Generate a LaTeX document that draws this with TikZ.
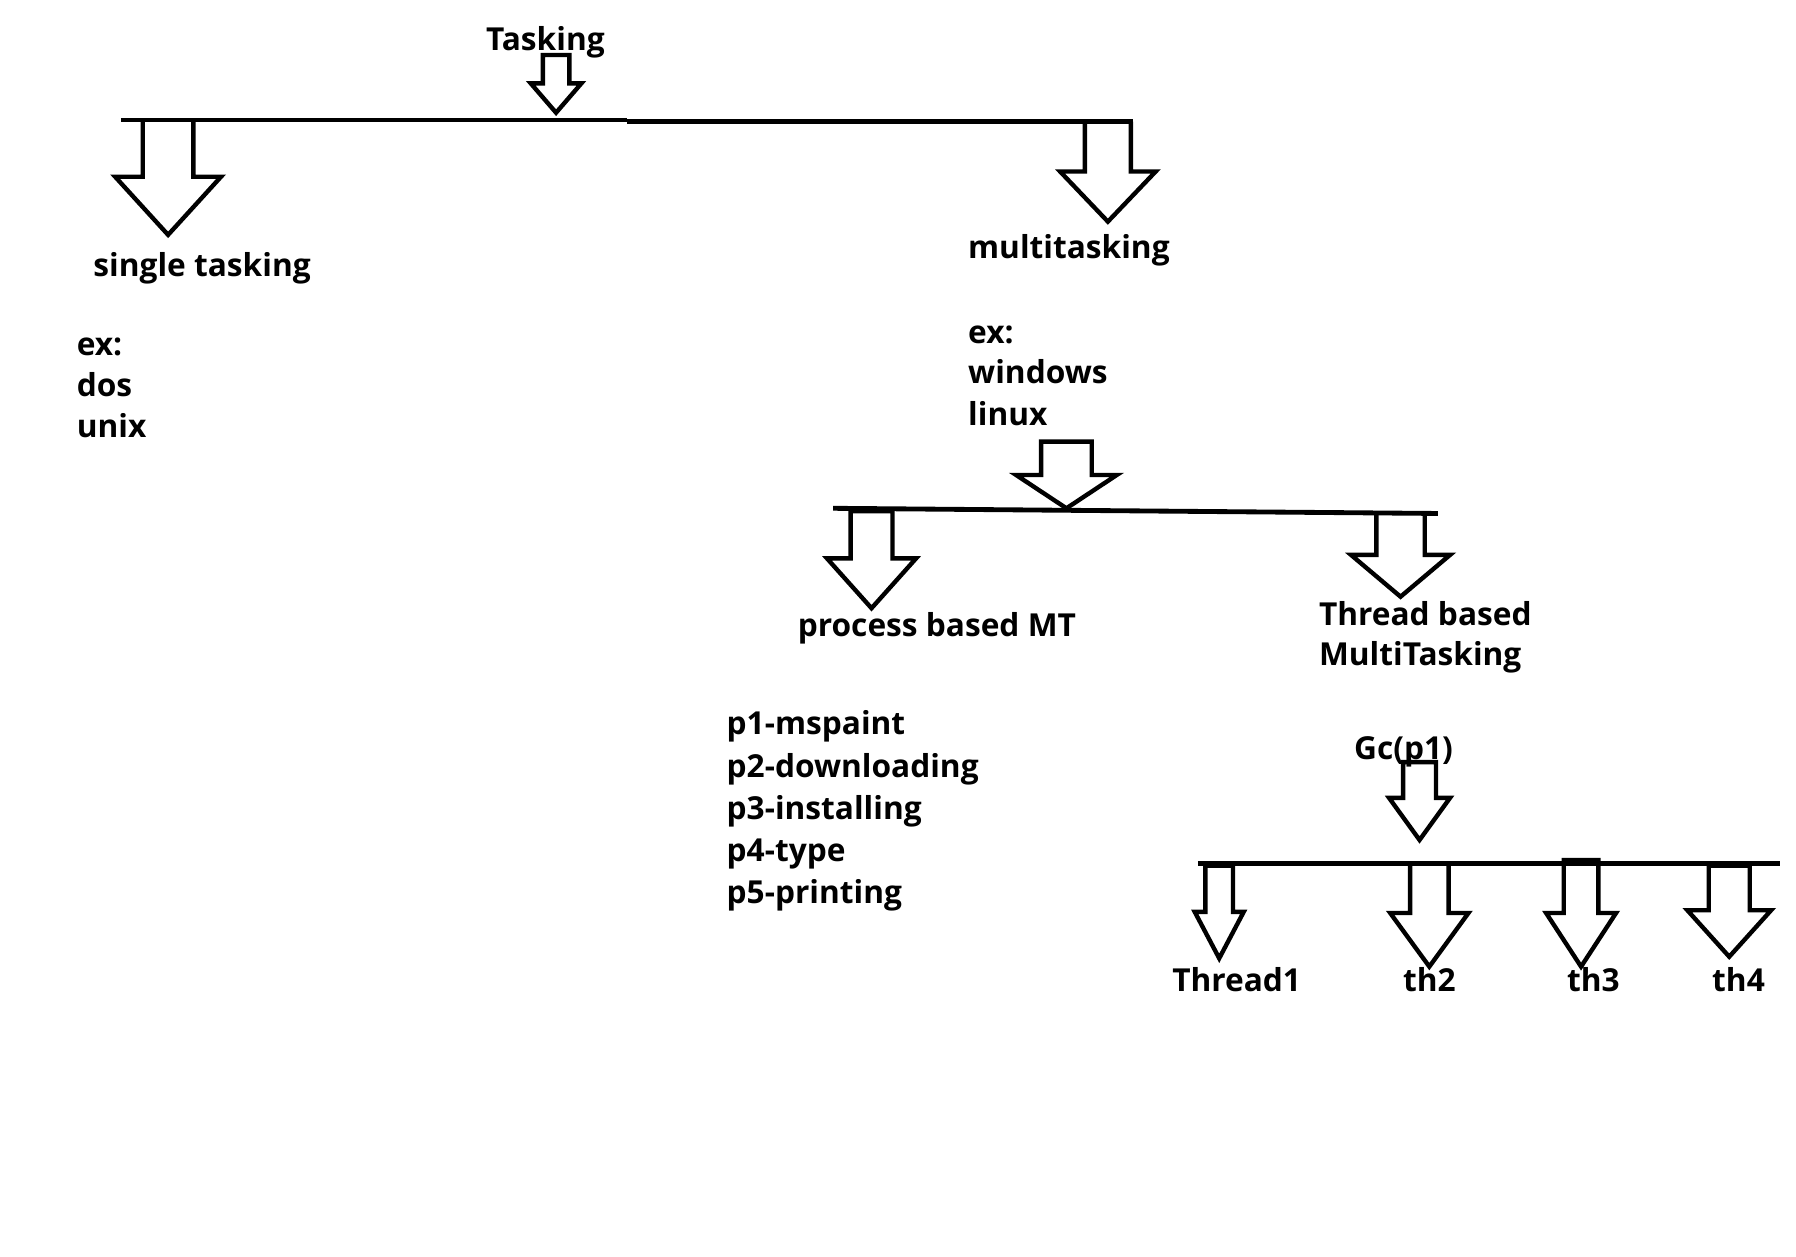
\documentclass[tikz,border=0pt]{standalone}
\usepackage{fontspec}
\setmainfont{Open Sans}
% #1 centre x, #2 top, #3 head base, #4 tip, #5 shaft half width, #6 head half width
\newcommand{\openarr}[6]{\draw[arrline] (#1-#5,#2) -- (#1-#5,#3) -- (#1-#6,#3) -- (#1,#4) -- (#1+#6,#3) -- (#1+#5,#3) -- (#1+#5,#2);}
\newcommand{\closedarr}[6]{\draw[arrline] (#1-#5,#2) -- (#1-#5,#3) -- (#1-#6,#3) -- (#1,#4) -- (#1+#6,#3) -- (#1+#5,#3) -- (#1+#5,#2) -- cycle;}
\begin{document}
\begin{tikzpicture}[x=1pt,y=-1pt,
  lbl/.style={font=\fontsize{27.5}{33}\selectfont\bfseries, inner sep=0pt, anchor=base west},
  barline/.style={line width=4.2pt},
  arrline/.style={line width=3.8pt, line join=miter}]
\useasboundingbox[fill=white] (0,0) rectangle (1560,1091);

% texts
\node[lbl] (tasking) at (422,43.5) {Tasking};
\node[lbl] (single) at (81,240.5) {single tasking};
\node[lbl] (stex) at (66.5,308.4) {ex:};
\node[lbl] (stdos) at (66.5,344.5) {dos};
\node[lbl] (stunix) at (66.5,380) {unix};
\node[lbl] (multi) at (840.7,224.4) {multitasking};
\node[lbl] (mtex) at (840.8,298) {ex:};
\node[lbl] (mtwin) at (840.8,333.5) {windows};
\node[lbl] (mtlinux) at (840.8,369.5) {linux};
\node[lbl] (process) at (692.8,553) {process based MT};
\node[lbl] (threadA) at (1145.5,543) {Thread based};
\node[lbl] (threadB) at (1145.5,578) {MultiTasking};
\node[lbl] (pa) at (631,638.4) {p1-mspaint};
\node[lbl] (pb) at (631,675) {p2-downloading};
\node[lbl] (pc) at (631,711.5) {p3-installing};
\node[lbl] (pd) at (631,748) {p4-type};
\node[lbl] (pe) at (631,784.5) {p5-printing};
\node[lbl] (gc) at (1176,660) {Gc(p1)};
\node[lbl] (tha) at (1018,861.5) {Thread1};
\node[lbl] (thb) at (1218.5,861.5) {th2};
\node[lbl] (thc) at (1361,861.5) {th3};
\node[lbl] (thd) at (1487,861.5) {th4};

% bars
\coordinate (barAl) at (105,104.2);
\coordinate (barAm) at (545,104.2);
\coordinate (barAn) at (545,105.7);
\coordinate (barAr) at (984,105.7);
\draw[barline] (barAl) -- (barAm);
\draw[barline] (barAn) -- (barAr);
\coordinate (barBl) at (723.7,441.5);
\coordinate (barBr) at (1249,446);
\draw[barline] (barBl) -- (barBr);
\coordinate (barCl) at (1040.5,750);
\coordinate (barCr) at (1546,750);
\draw[barline] (barCl) -- (barCr);

% block arrows
\closedarr{483}{47.8}{72.4}{97.9}{11.5}{22}
\openarr{146}{105}{153.5}{204}{22}{46}
\openarr{962.3}{105.7}{149}{192.5}{20}{41.5}
\closedarr{926.3}{383.6}{412.6}{441.5}{22}{43.7}
\closedarr{757}{444}{485}{528.3}{18.2}{38.7}
\openarr{1216.5}{445.5}{482}{518.3}{21}{43}
\closedarr{1233}{662}{693}{729.6}{14.3}{26.5}
\closedarr{1059}{752}{792}{832.4}{12}{21.3}
\openarr{1241.5}{750}{793}{839.6}{16.7}{34}
\closedarr{1373.3}{747}{793}{839.6}{15}{30.4}
\closedarr{1502}{752}{790.6}{831}{17.8}{36.4}
\end{tikzpicture}
\end{document}
